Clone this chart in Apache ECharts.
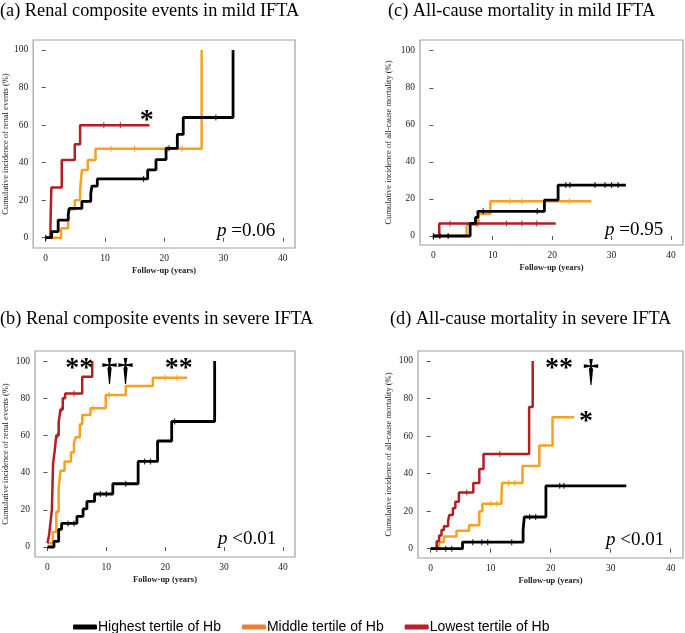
<!DOCTYPE html>
<html><head><meta charset="utf-8">
<script src="https://cdn.jsdelivr.net/npm/echarts@6/dist/echarts.min.js"></script>
<style>html,body{margin:0;padding:0;background:#fff}#c{width:685px;height:633px}</style>
</head><body><div id="c"></div>
<script>
// ---- tick labels ----
const xTicks = [0, 10, 20, 30, 40];
const yTicks = [0, 20, 40, 60, 80, 100];
const groupNames = ['Highest tertile of Hb', 'Middle tertile of Hb', 'Lowest tertile of Hb'];

// ---- (a) Renal composite events in mild IFTA : [years, %] ----
const aHighest = [[0,0],[1.0,3.2],[2.1,9.4],[3.8,12.5],[4.0,15.6],[6.1,19.3],[7.6,23.5],[7.8,27.5],[8.7,31.3],[17.2,36.1],[18.6,41.6],[20.3,47.6],[22.2,55],[23.2,64],[31.6,64],[31.6,100]];
const aMiddle  = [[0,0],[2.6,5],[3.8,15.1],[4.9,19.9],[5.8,25.4],[6.1,36],[7.1,41.4],[8.4,47.4],[26.3,47.4],[26.3,100]];
const aLowest  = [[0,0],[0.8,6.7],[0.95,26.7],[2.7,41.4],[4.9,49.7],[5.8,59.9],[17.5,59.9]];
const aHighestCens = [[0,0],[16.5,31.3],[20.8,47.6],[28.7,64]];
const aMiddleCens  = [[11,47.4],[15,47.4],[20.5,47.4],[23,47.4]];
const aLowestCens  = [[9.8,59.9],[12.6,59.9]];

// ---- (b) Renal composite events in severe IFTA ----
const bHighest = [[0,0],[1.1,3],[1.9,9.5],[2.4,12.7],[5.0,16.5],[6.05,20.5],[6.7,24.5],[8.0,28.5],[11.1,34],[15.4,46],[18.7,57],[21.1,67.5],[28.4,67.5],[28.4,100]];
const bMiddle  = [[0,2],[0.9,8],[1.5,19],[1.9,31.5],[2.2,41],[2.9,46],[4.0,51],[4.5,56],[4.8,59],[5.5,66],[5.9,71],[7.3,74.6],[9.9,81.7],[13.3,86.6],[17.9,91],[23.7,91]];
const bLowest  = [[0,2],[0.3,7],[0.5,13],[0.75,20],[0.95,45],[1.2,51],[1.5,60],[1.9,67],[2.2,74],[2.6,80],[3.0,82.6],[5.9,91.6],[7.6,91.6],[7.6,100]];
const bHighestCens = [[3.5,12.7],[4.5,12.7],[9,28.5],[10,28.5],[13.3,34],[16.5,46],[17.5,46],[21.6,67.5]];
const bMiddleCens  = [[7.7,74.6],[10.5,81.7],[20,91],[22,91]];
const bLowestCens  = [[1.7,60],[2.4,74],[4.5,82.6]];

// ---- (c) All-cause mortality in mild IFTA ----
const cHighest = [[0,0],[6.2,6.8],[7.1,10],[7.5,13.3],[18.7,19.4],[21.0,27.5],[32.4,27.5]];
const cMiddle  = [[0,0],[5.6,6.1],[7.6,11.9],[9.6,18.7],[26.6,18.7]];
const cLowest  = [[0,0],[1.0,6.8],[20.6,6.8]];
const cHighestCens = [[0,0],[1.1,0],[2.5,0],[8.4,13.3],[17.5,13.3],[22.3,27.5],[23,27.5],[27.2,27.5],[28.9,27.5],[30,27.5],[31.1,27.5]];
const cMiddleCens  = [[12.9,18.7],[14.9,18.7],[22.9,18.7]];
const cLowestCens  = [[2.8,6.8],[7.3,6.8],[12.3,6.8],[14.9,6.8],[17.4,6.8]];

// ---- (d) All-cause mortality in severe IFTA ----
const dHighest = [[0,0],[5.3,3.5],[15.4,10],[15.6,16.9],[19.2,33.5],[32.6,33.5]];
const dMiddle  = [[0,0],[1.4,3.5],[2.2,6.5],[4.3,9.5],[6.4,12.5],[8.1,20],[8.6,24],[11.8,29],[11.9,35],[15.3,44],[18.1,55],[20.3,70],[23.9,70]];
const dLowest  = [[0,0],[1.0,4],[1.4,7],[1.8,10],[2.2,12],[2.9,15],[3.1,18],[3.7,21.5],[4.1,25],[4.7,30],[7.1,35],[8.1,42.5],[8.8,50.5],[16.4,75.5],[17.0,100]];
const dHighestCens = [[1,0],[2.5,0],[3.5,0],[7,3.5],[8.5,3.5],[9.5,3.5],[13.5,3.5],[16.5,16.9],[17.5,16.9],[21.5,33.5],[22.2,33.5]];
const dMiddleCens  = [[10,24],[11,24],[13,35],[14,35]];
const dLowestCens  = [[6,30],[11.5,50.5]];

// ---- annotations [x, y, text] ----
const aNotes = [[17.05, 62.5, '*']];
const bNotes = [[5.4, 96, '**'], [11.9, 94, '\u2020\u2020'], [22.3, 96, '**']];
const cNotes = [];
const dNotes = [[21.4, 96, '**'], [26.7, 93.5, '\u2020'], [25.9, 67.5, '*']];

const pTexts = ['=0.06', '<0.01', '=0.95', '<0.01'];
const titles = ['(a) Renal composite events in mild IFTA', '(b) Renal composite events in severe IFTA',
                '(c) All-cause mortality in mild IFTA', '(d) All-cause mortality in severe IFTA'];
const yNames = ['Cumulative incidence of renal events (%)', 'Cumulative incidence of renal events (%)',
                'Cumulative incidence of all-cause mortality (%)', 'Cumulative incidence of all-cause mortality (%)'];

// ---- layout ----
const SERIF = '"Liberation Serif", "Times New Roman", serif';
const COL = {hi: '#000000', mid: '#F6A21E', lo: '#B11F24'};
const LEG = {hi: '#000000', mid: '#E8823A', lo: '#B8202A'};
const grids = [
  {left: 30, top: 40, width: 265, height: 208},
  {left: 30, top: 351, width: 265, height: 206},
  {left: 420, top: 40, width: 263, height: 205},
  {left: 418, top: 351, width: 265, height: 207}
];
const xRanges = [[-2.12, 42.05], [-2.12, 42.05], [-2.24, 42.02], [-2.12, 42.05]];
const yRanges = [[-5.49, 105.26], [-5.38, 105.4], [-4.86, 105.8], [-4.95, 105.3]];
const yNameGaps = [23, 25, 27, 25];
const pPos = [[217, 231], [218, 539], [605, 230], [606, 540]];
const titlePos = [[0, 12], [0, 320], [388, 12], [390, 320]];

const panels = [
  {hi: aHighest, mid: aMiddle, lo: aLowest, hiC: aHighestCens, midC: aMiddleCens, loC: aLowestCens, notes: aNotes},
  {hi: bHighest, mid: bMiddle, lo: bLowest, hiC: bHighestCens, midC: bMiddleCens, loC: bLowestCens, notes: bNotes},
  {hi: cHighest, mid: cMiddle, lo: cLowest, hiC: cHighestCens, midC: cMiddleCens, loC: cLowestCens, notes: cNotes},
  {hi: dHighest, mid: dMiddle, lo: dLowest, hiC: dHighestCens, midC: dMiddleCens, loC: dLowestCens, notes: dNotes}
];

const xAxes = [], yAxes = [], series = [], graphic = [];
panels.forEach((p, i) => {
  xAxes.push({
    type: 'value', gridIndex: i, min: xRanges[i][0], max: xRanges[i][1],
    splitLine: {show: false}, axisLine: {show: false},
    axisTick: {show: true, customValues: xTicks, length: 4, lineStyle: {color: '#555'}},
    axisLabel: {customValues: xTicks, fontFamily: SERIF, fontSize: 9.5, color: '#222', margin: 5},
    name: 'Follow-up (years)', nameLocation: 'middle', nameGap: 18,
    nameTextStyle: {fontFamily: SERIF, fontSize: 8.5, color: '#222', fontWeight: 'bold'}
  });
  yAxes.push({
    type: 'value', gridIndex: i, min: yRanges[i][0], max: yRanges[i][1],
    splitLine: {show: false}, axisLine: {show: false},
    axisTick: {show: true, customValues: yTicks, length: 4, lineStyle: {color: '#555'}},
    axisLabel: {customValues: yTicks, fontFamily: SERIF, fontSize: 9.5, color: '#222', margin: 5},
    name: yNames[i], nameLocation: 'middle', nameGap: yNameGaps[i],
    nameTextStyle: {fontFamily: SERIF, fontSize: 8.5, color: '#222'}
  });
  const mk = (name, data, color, w, z) => ({
    type: 'line', name, xAxisIndex: i, yAxisIndex: i, data, step: 'end',
    symbol: 'none', showSymbol: false, lineStyle: {color, width: w}, itemStyle: {color}, z
  });
  const cens = (data, color, z) => ({
    type: 'scatter', xAxisIndex: i, yAxisIndex: i, data, symbol: 'rect',
    symbolSize: [1.2, 6], itemStyle: {color, opacity: 0.8}, z, silent: true
  });
  const sMid = mk(groupNames[1], p.mid, COL.mid, 2.5, 2);
  const sLo = mk(groupNames[2], p.lo, COL.lo, 2.5, 3);
  const sHi = mk(groupNames[0], p.hi, COL.hi, 2.8, 4);
  sHi.markPoint = {
    silent: true, animation: false,
    symbol: 'circle', symbolSize: 1, itemStyle: {color: 'rgba(0,0,0,0)'},
    data: p.notes.map(n => ({
      coord: [n[0], n[1]], value: n[2],
      label: {show: true, position: 'inside', formatter: n[2], color: '#000',
        fontFamily: SERIF, fontSize: n[2].indexOf('\u2020') >= 0 ? 32 : 28, fontWeight: 'bold'}
    }))
  };
  series.push(sMid, sLo, sHi,
    cens(p.midC, COL.mid, 2), cens(p.loC, COL.lo, 3), cens(p.hiC, COL.hi, 4));

  graphic.push({
    type: 'text', left: titlePos[i][0], top: titlePos[i][1] - 10,
    style: {text: titles[i], font: '18.3px ' + SERIF, fill: '#000'}
  });
  graphic.push({
    type: 'text', x: pPos[i][0], y: pPos[i][1],
    style: {
      text: '{i|p} ' + pTexts[i], verticalAlign: 'middle', align: 'left',
      rich: {i: {fontStyle: 'italic', fontFamily: SERIF, fontSize: 19, fill: '#000'}},
      font: '19px ' + SERIF, fill: '#000'
    }
  });
});

const chart = echarts.init(document.getElementById('c'), null, {renderer: 'canvas'});
chart.setOption({
  animation: false,
  backgroundColor: '#fff',
  grid: grids.map(g => Object.assign({show: true, borderColor: '#a0a0a0', borderWidth: 1.2, backgroundColor: 'transparent'}, g)),
  xAxis: xAxes,
  yAxis: yAxes,
  legend: {
    left: 73, top: 620, padding: 0, icon: 'roundRect', itemWidth: 24, itemHeight: 5, itemGap: 21,
    textStyle: {fontFamily: '"Liberation Sans", Arial, sans-serif', fontSize: 14, color: '#000', padding: [0, 0, 0, -4]},
    data: [
      {name: groupNames[0], itemStyle: {color: LEG.hi}},
      {name: groupNames[1], itemStyle: {color: LEG.mid}},
      {name: groupNames[2], itemStyle: {color: LEG.lo}}
    ]
  },
  series,
  graphic
});
</script></body></html>
